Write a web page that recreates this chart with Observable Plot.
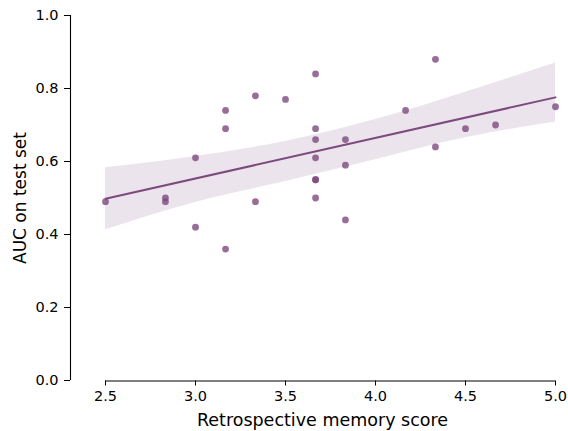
<!DOCTYPE html>
<html>
<head>
<meta charset="utf-8">
<script src="https://cdn.jsdelivr.net/npm/d3@7"></script>
<script src="https://cdn.jsdelivr.net/npm/@observablehq/plot@0.6"></script>
<style>
  html, body { margin: 0; padding: 0; background: #fff; }
  #chart svg { display: block; font-family: "DejaVu Sans", sans-serif; }
</style>
</head>
<body>
<div id="chart"></div>
<script>
// Retrospective memory score (x) and AUC on test set (y)
const memoryScore = [
  2.5,
  2.833, 2.833,
  3.0, 3.0,
  3.167, 3.167, 3.167,
  3.333, 3.333,
  3.5,
  3.667, 3.667, 3.667, 3.667, 3.667, 3.667, 3.667,
  3.833, 3.833, 3.833,
  4.167,
  4.333, 4.333,
  4.5,
  4.667,
  5.0
];
const aucTest = [
  0.49,
  0.50, 0.49,
  0.61, 0.42,
  0.74, 0.69, 0.36,
  0.78, 0.49,
  0.77,
  0.84, 0.69, 0.66, 0.61, 0.55, 0.55, 0.50,
  0.66, 0.59, 0.44,
  0.74,
  0.88, 0.64,
  0.69,
  0.70,
  0.75
];
// 95% confidence band of the fit
const bandX  = [2.5,   3.0,   3.5,   4.0,   4.5,   5.0];
const bandLo = [0.413, 0.488, 0.545, 0.605, 0.665, 0.708];
const bandHi = [0.583, 0.614, 0.655, 0.715, 0.790, 0.870];

const xTicks = [2.5, 3.0, 3.5, 4.0, 4.5, 5.0];
const yTicks = [0.0, 0.2, 0.4, 0.6, 0.8, 1.0];
const xLabel = "Retrospective memory score";
const yLabel = "AUC on test set";

const pts = memoryScore.map((x, i) => ({x, y: aucTest[i]}));
const band = bandX.map((x, i) => ({x, lo: bandLo[i], hi: bandHi[i]}));

// OLS regression line
const xbar = d3.mean(memoryScore), ybar = d3.mean(aucTest);
const sxx = d3.sum(memoryScore, x => (x - xbar) ** 2);
const sxy = d3.sum(pts, p => (p.x - xbar) * (p.y - ybar));
const slope = sxy / sxx, intercept = ybar - slope * xbar;
const fit = d3.extent(memoryScore).map(x => ({x, y: intercept + slope * x}));

const purple = "#7d4a7d";
const font = "DejaVu Sans, sans-serif";

const plot = Plot.plot({
  width: 568,
  height: 431,
  marginLeft: 105,
  marginRight: 13,
  marginTop: 15,
  marginBottom: 51,
  style: {fontFamily: font, color: "#000", background: "#fff"},
  x: {domain: [xTicks[0], xTicks[xTicks.length - 1]]},
  y: {domain: [yTicks[0], yTicks[yTicks.length - 1]]},
  marks: [
    Plot.areaY(band, {x: "x", y1: "lo", y2: "hi", fill: purple, fillOpacity: 0.15, curve: "monotone-x"}),
    Plot.dot(pts, {x: "x", y: "y", r: 3.4, fill: purple, fillOpacity: 0.8, stroke: "none"}),
    Plot.line(fit, {x: "x", y: "y", stroke: purple, strokeWidth: 2}),
    // spines (trimmed to tick range)
    Plot.ruleY([yTicks[0]], {x1: xTicks[0], x2: xTicks[xTicks.length - 1], stroke: "#000", strokeWidth: 1.1, dy: 0.5}),
    Plot.ruleX([xTicks[0]], {y1: yTicks[0], y2: yTicks[yTicks.length - 1], stroke: "#000", strokeWidth: 1.1, dx: -35}),
    Plot.axisX({ticks: xTicks, tickFormat: d3.format(".1f"), tickSize: 5, tickPadding: 5, fontSize: 14.5,
      fontFamily: font, label: null, dy: 0.5}),
    Plot.axisY({ticks: yTicks, tickFormat: d3.format(".1f"), tickSize: 6, tickPadding: 6, fontSize: 14.5,
      fontFamily: font, dx: -35, label: null}),
    Plot.text([xLabel], {frameAnchor: "bottom", dy: 45, dx: -8, lineAnchor: "bottom", textAnchor: "middle",
      fontSize: 17.5, fontFamily: font, text: d => d, fill: "#000"}),
    Plot.text([yLabel], {frameAnchor: "left", textAnchor: "middle", rotate: -90, dx: -85,
      fontSize: 17, fontFamily: font, text: d => d, fill: "#000"})
  ]
});
document.getElementById("chart").appendChild(plot);
</script>
</body>
</html>
